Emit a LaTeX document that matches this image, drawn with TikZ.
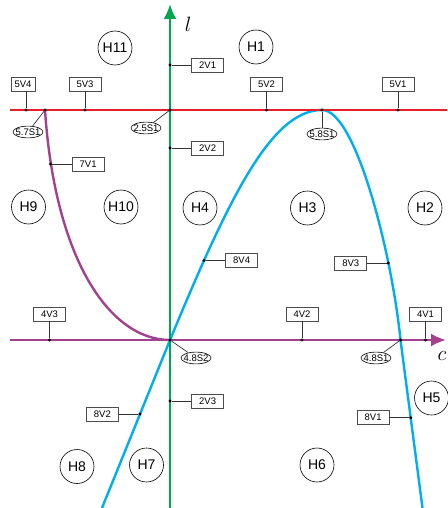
\documentclass[tikz,border=0pt]{standalone}
\usepackage{fontspec}
\setmainfont{Liberation Sans}
\usetikzlibrary{arrows.meta,positioning,shapes.geometric}
\definecolor{lnred}{RGB}{232,30,40}
\definecolor{lngreen}{RGB}{0,166,80}
\definecolor{lnblue}{RGB}{0,174,239}
\definecolor{lnpurple}{RGB}{163,65,143}
\tikzset{%
  curve/.style={line width=2.4pt},
  axis/.style={line width=2.4pt,-{Latex[length=15pt,width=13pt]}},
  stem/.style={draw=black!80,line width=0.7pt}%
}

\begin{document}
\begin{tikzpicture}[
    x=1pt, y=-1pt,
    node distance=17pt and 19.5pt,
    vbox/.style={
        draw=black!70,
        line width=0.6pt,
        font=\fontsize{9.5}{11}\selectfont,
        minimum width=32pt,
        minimum height=14pt,
        inner sep=1pt
    },
    sbox/.style={
        draw,
        ellipse,
        line width=0.6pt,
        font=\fontsize{9.5}{11}\selectfont,
        inner xsep=-1.8pt,
        inner ysep=0.8pt
    },
    region/.style={
        draw,
        circle,
        line width=0.6pt,
        font=\fontsize{14}{16}\selectfont,
        minimum size=34pt,
        inner sep=0pt
    },
    jdot/.style={circle, fill, inner sep=0pt, minimum size=3.2pt}
]
\useasboundingbox (0,0) rectangle (447,508);

% curves and axes
\draw[axis, lnpurple] (10,340) -- (446,340);
\draw[curve, lnpurple] (45,110) .. controls (55,260) and (110,340) .. (170,340);
\draw[curve, lnblue] (102,508) -- (170,340) .. controls (230,195) and (272,110) .. (322,110)
    .. controls (356,110) and (392,255) .. (400.5,340) -- (422.5,508);
\draw[curve, lnred] (10,110) -- (447,110);
\draw[axis, lngreen] (170,508) -- (170,4);

\node (ll) at (188,24) {\fontsize{20}{24}\selectfont$l$};
\node (lc) at (442,356) {\fontsize{20}{24}\selectfont$c$};

% regions
\node[region] (h11) at (115,48) {H11};
\node[region] (h1) at (256,47) {H1};
\node[region] (h9) at (28.5,207) {H9};
\node[region] (h10) at (121,207) {H10};
\node[region] (h4) at (200,208) {H4};
\node[region] (h3) at (307.5,208) {H3};
\node[region] (h2) at (425,208) {H2};
\node[region] (h5) at (431.5,398) {H5};
\node[region] (h6) at (317,465) {H6};
\node[region] (h7) at (146.5,465) {H7};
\node[region] (h8) at (77,466.5) {H8};

% red line
\node[jdot] (p5v4) at (26,110) {};
\node[jdot] (p5v3) at (85,110) {};
\node[jdot] (p5v2) at (266.5,110) {};
\node[jdot] (p5v1) at (398,110) {};
\node[jdot] (p57) at (45,110) {};
\node[jdot] (p25) at (170,110) {};
\node[jdot] (p58) at (322,110) {};

\node[vbox, minimum width=24pt, above=of p5v4, xshift=-3pt] (v5v4) {5V4};
\node[vbox, above=of p5v3] (v5v3) {5V3};
\node[vbox, above=of p5v2] (v5v2) {5V2};
\node[vbox, above=of p5v1] (v5v1) {5V1};
\node[sbox] (s57) at (28,132) {5.7S1};
\node[sbox] (s25) at (146,128) {2.5S1};
\node[sbox] (s58) at (322,134) {5.8S1};

\draw[stem] (p5v4) -- (v5v4.south -| p5v4);
\draw[stem] (p5v3) -- (v5v3);
\draw[stem] (p5v2) -- (v5v2);
\draw[stem] (p5v1) -- (v5v1);
\draw[stem] (p57) -- (s57);
\draw[stem] (p25) -- (s25);
\draw[stem] (p58) -- (s58);

% green axis
\node[jdot] (p2v1) at (170,65) {};
\node[jdot] (p2v2) at (170,148) {};
\node[jdot] (p2v3) at (170,401) {};
\node[vbox, right=of p2v1] (v2v1) {2V1};
\node[vbox, right=of p2v2] (v2v2) {2V2};
\node[vbox, right=of p2v3] (v2v3) {2V3};
\draw[stem] (p2v1) -- (v2v1);
\draw[stem] (p2v2) -- (v2v2);
\draw[stem] (p2v3) -- (v2v3);

% purple axis and curve
\node[jdot] (p4v3) at (49.5,340) {};
\node[jdot] (p4v2) at (302,340) {};
\node[jdot] (p4v1) at (425.5,340) {};
\node[jdot] (p48s2) at (170,340) {};
\node[jdot] (p48s1) at (400.5,340) {};
\node[jdot] (p7v1) at (50.5,164) {};
\node[vbox, above=of p4v3] (v4v3) {4V3};
\node[vbox, above=of p4v2] (v4v2) {4V2};
\node[vbox, above=of p4v1] (v4v1) {4V1};
\node[vbox, right=of p7v1] (v7v1) {7V1};
\node[sbox] (s48s2) at (196,358) {4.8S2};
\node[sbox] (s48s1) at (376,358) {4.8S1};
\draw[stem] (p4v3) -- (v4v3);
\draw[stem] (p4v2) -- (v4v2);
\draw[stem] (p4v1) -- (v4v1);
\draw[stem] (p7v1) -- (v7v1);
\draw[stem] (p48s2) -- (s48s2);
\draw[stem] (p48s1) -- (s48s1);

% blue curve
\node[jdot] (p8v4) at (204,260.5) {};
\node[jdot] (p8v3) at (388.3,263) {};
\node[jdot] (p8v2) at (140,414) {};
\node[jdot] (p8v1) at (410.7,417.7) {};
\node[vbox, right=of p8v4] (v8v4) {8V4};
\node[vbox, left=of p8v3] (v8v3) {8V3};
\node[vbox, left=of p8v2] (v8v2) {8V2};
\node[vbox, left=of p8v1] (v8v1) {8V1};
\draw[stem] (p8v4) -- (v8v4);
\draw[stem] (p8v3) -- (v8v3);
\draw[stem] (p8v2) -- (v8v2);
\draw[stem] (p8v1) -- (v8v1);

\end{tikzpicture}
\end{document}
